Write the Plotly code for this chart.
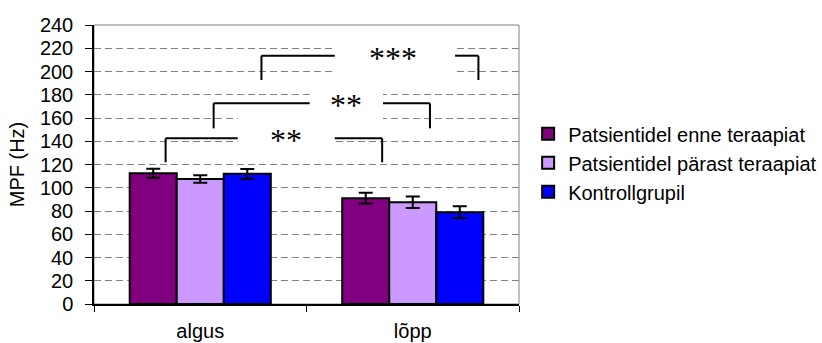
import plotly.graph_objects as go

categories = ["algus", "lõpp"]
series_names = ["Patsientidel enne teraapiat", "Patsientidel pärast teraapiat", "Kontrollgrupil"]
enne = [112.5, 91]
parast = [107.5, 87.5]
kontroll = [112, 79]
err_enne = [3.8, 4.6]
err_parast = [3.2, 5.0]
err_kontroll = [4.2, 5.0]
y_ticks = list(range(0, 241, 20))

# significance brackets: label, left x, right x, top y, leg bottom y, gap (x0, x1)
sig_labels = ["**", "**", "***"]
brackets = [
    dict(x0=-0.163, x1=0.856, y=142.5, yb=121.9, g0=0.176, g1=0.633, tx=0.402, by0=130, by1=170),
    dict(x0=0.063, x1=1.081, y=172.6, yb=151.1, g0=0.515, g1=0.860, tx=0.684, by0=148, by1=192),
    dict(x0=0.288, x1=1.309, y=213.6, yb=192.7, g0=0.633, g1=1.199, tx=0.906, by0=195, by1=232),
]

colors = ["#800080", "#CC99FF", "#0000FF"]
values = [enne, parast, kontroll]
errors = [err_enne, err_parast, err_kontroll]

fig = go.Figure()
for name, vals, errs, col in zip(series_names, values, errors, colors):
    fig.add_trace(go.Bar(
        x=categories, y=vals, name=name,
        marker=dict(color=col, line=dict(color="black", width=2)),
        error_y=dict(type="data", array=errs, visible=True, color="black", thickness=2, width=7),
    ))

shapes = []
# plot-area border (gray)
shapes.append(dict(type="rect", xref="paper", yref="paper", x0=0, x1=1, y0=0, y1=1,
                   line=dict(color="#808080", width=1), layer="below"))
for b in brackets:
    # white boxes behind labels (cover gridlines)
    shapes.append(dict(type="rect", xref="x", yref="y", x0=b["g0"], x1=b["g1"], y0=b["by0"], y1=b["by1"],
                       fillcolor="white", line=dict(width=0), layer="between"))
for b in brackets:
    lw = dict(color="black", width=2)
    shapes.append(dict(type="line", xref="x", yref="y", x0=b["x0"], x1=b["x0"], y0=b["yb"], y1=b["y"], line=lw))
    shapes.append(dict(type="line", xref="x", yref="y", x0=b["x0"], x1=b["g0"], y0=b["y"], y1=b["y"], line=lw))
    shapes.append(dict(type="line", xref="x", yref="y", x0=b["g1"], x1=b["x1"], y0=b["y"], y1=b["y"], line=lw))
    shapes.append(dict(type="line", xref="x", yref="y", x0=b["x1"], x1=b["x1"], y0=b["y"], y1=b["yb"], line=lw))

annotations = []
for lab, b in zip(sig_labels, brackets):
    annotations.append(dict(x=b["tx"], y=b["y"], xref="x", yref="y", text=lab, showarrow=False,
                            xanchor="center", yanchor="middle", yshift=-2,
                            font=dict(family="Liberation Serif", size=32, color="black")))

fig.update_layout(
    width=822, height=343,
    margin=dict(l=94, r=303, t=25, b=39, autoexpand=False),
    paper_bgcolor="white", plot_bgcolor="white",
    barmode="group", bargap=0.336, bargroupgap=0,
    font=dict(family="Liberation Sans, Arial", size=20, color="black"),
    shapes=shapes, annotations=annotations,
    legend=dict(xref="container", yref="container", x=0.6425, y=0.667, xanchor="left", yanchor="top",
                font=dict(size=20), bgcolor="rgba(0,0,0,0)", tracegroupgap=0),
    showlegend=True,
)
fig.update_xaxes(
    range=[-0.5, 1.5], showline=True, linecolor="black", linewidth=1.5,
    ticks="outside", ticklen=6, tickcolor="black", tickson="boundaries",
    ticklabelstandoff=8, showgrid=False, tickfont=dict(size=20), automargin=False,
)
fig.update_yaxes(
    range=[0, 240], tickvals=y_ticks, showline=True, linecolor="black", linewidth=1.5,
    ticks="outside", ticklen=7, tickcolor="black", ticklabelstandoff=8,
    showgrid=True, gridcolor="#808080", gridwidth=1, griddash="7px,4px",
    zeroline=False, tickfont=dict(size=20), automargin=False,
    title=dict(text="MPF (Hz)", font=dict(size=20), standoff=10),
)

fig.write_html("out.html", config={"displayModeBar": False},
               post_script="document.body.style.margin='0';")
